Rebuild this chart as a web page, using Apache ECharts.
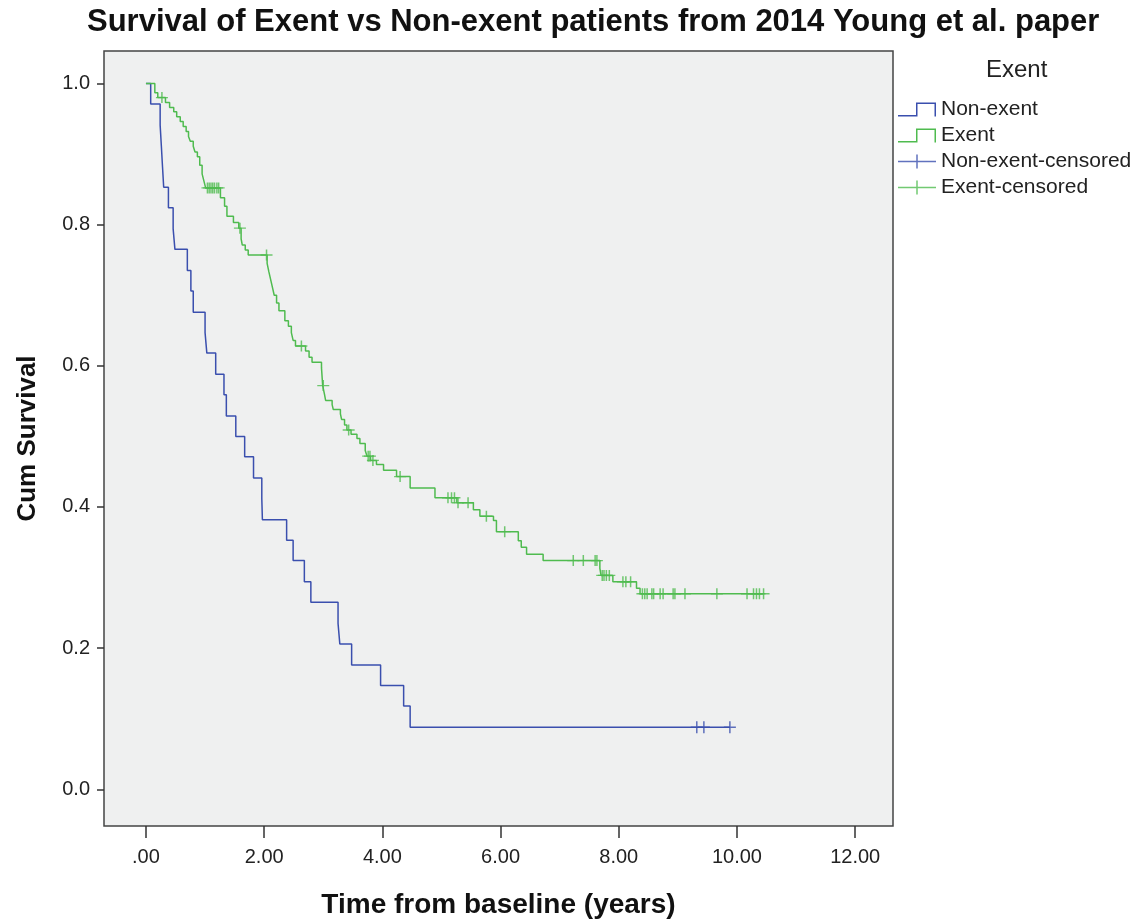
<!DOCTYPE html>
<html>
<head>
<meta charset="utf-8">
<title>Survival of Exent vs Non-exent patients</title>
<script src="https://cdn.jsdelivr.net/npm/echarts@6/dist/echarts.min.js"></script>
<style>
    html, body { margin: 0; padding: 0; background: #fff; }
    #chart { width: 1140px; height: 924px; }
</style>
</head>
<body>
<div id="chart"></div>
<script>
// Non-exent group: event times (years) and survival after each step
const nonExentTimes = [0, 0.08, 0.24, 0.26, 0.28, 0.30, 0.38, 0.46, 0.49, 0.70, 0.76, 0.80,
    1.00, 1.03, 1.18, 1.32, 1.36, 1.52, 1.67, 1.82, 1.96, 1.97, 2.38, 2.49, 2.68, 2.79,
    3.25, 3.28, 3.48, 3.97, 4.36, 4.47, 9.88]
const nonExentSurv = [1.0, 0.971, 0.941, 0.912, 0.882, 0.853, 0.824, 0.794, 0.765, 0.735, 0.706, 0.676,
    0.647, 0.618, 0.588, 0.559, 0.529, 0.500, 0.471, 0.441, 0.412, 0.382, 0.353, 0.324, 0.294, 0.265,
    0.235, 0.206, 0.176, 0.147, 0.118, 0.088, 0.088]
const nonExentCensored = [9.32, 9.44, 9.88]

// Exent group
const exentTimes = [0, 0.15, 0.20, 0.33, 0.40, 0.47, 0.52, 0.58, 0.63, 0.68, 0.72, 0.75, 0.80,
    0.83, 0.87, 0.91, 0.95, 0.98, 1.01, 1.26, 1.33, 1.37, 1.48, 1.57, 1.61, 1.63, 1.68, 1.73,
    2.05, 2.08, 2.11, 2.14, 2.17, 2.21, 2.25, 2.35, 2.41, 2.46, 2.49, 2.53, 2.70, 2.76, 2.81,
    2.97, 2.99, 3.02, 3.04, 3.15, 3.17, 3.29, 3.31, 3.36, 3.40, 3.47, 3.57, 3.62, 3.71, 3.74,
    3.80, 3.90, 4.02, 4.24, 4.47, 4.89, 5.26, 5.54, 5.65, 5.88, 5.93, 6.30, 6.35, 6.44, 6.72,
    7.68, 7.70, 7.90, 8.30, 8.36, 10.45]
const exentSurv = [1.0, 0.987, 0.980, 0.973, 0.966, 0.960, 0.953, 0.946, 0.939, 0.932, 0.925, 0.918, 0.911,
    0.903, 0.896, 0.884, 0.872, 0.862, 0.852, 0.838, 0.826, 0.812, 0.803, 0.795, 0.780, 0.771, 0.764, 0.757,
    0.745, 0.733, 0.722, 0.711, 0.700, 0.689, 0.678, 0.664, 0.656, 0.647, 0.636, 0.628, 0.621, 0.612, 0.605,
    0.597, 0.572, 0.560, 0.551, 0.545, 0.538, 0.532, 0.524, 0.516, 0.509, 0.503, 0.497, 0.490, 0.480, 0.472,
    0.466, 0.460, 0.452, 0.443, 0.427, 0.413, 0.406, 0.396, 0.387, 0.381, 0.365, 0.352, 0.343, 0.333, 0.324,
    0.313, 0.303, 0.294, 0.285, 0.277, 0.277]
const exentCensored = [0.27, 1.04, 1.07, 1.10, 1.13, 1.16, 1.20, 1.23, 1.59, 2.04, 2.63, 3.00, 3.43,
    3.76, 3.79, 3.84, 4.30, 5.11, 5.17, 5.22, 5.28, 5.45, 5.76, 6.07, 7.23, 7.40, 7.60, 7.63,
    7.72, 7.75, 7.79, 7.84, 8.07, 8.12, 8.20, 8.40, 8.44, 8.48, 8.56, 8.59, 8.70, 8.75, 8.92,
    8.95, 9.12, 9.66, 10.17, 10.28, 10.33, 10.38, 10.45]

const xTicks = [0, 2, 4, 6, 8, 10, 12]
const yTicks = [0, 0.2, 0.4, 0.6, 0.8, 1.0]

const BLUE = '#3a4fae'
const GREEN = '#4fbb4f'
const FONT = 'Liberation Sans, Arial, sans-serif'

// survival value of a step curve at time t (to put censor marks on the line)
function survAt(times, surv, t) {
    let s = surv[0]
    for (let i = 0; i < times.length; i++) {
        if (times[i] <= t) s = surv[i]
    }
    return s
}

const pairs = (xs, ys) => xs.map((x, i) => [x, ys[i]])

const crossIcon = 'path://M0,6.25 H38 V7.75 H0 Z M18.25,0 H19.75 V14 H18.25 Z'
const stepIcon = 'path://M0,12.5 L18,12.5 L18,0 L38,0 L38,14 L36.5,14 L36.5,1.5 L19.5,1.5 L19.5,14 L0,14 Z'
const crossMark = 'path://M5.25,0 H6.75 V12 H5.25 Z M0,5.25 H12 V6.75 H0 Z'

const chart = echarts.init(document.getElementById('chart'))

const option = {
    backgroundColor: '#fff',
    animation: false,
    title: [
        {
            text: 'Survival of Exent vs Non-exent patients from 2014 Young et al. paper',
            left: 82,
            top: 2,
            textStyle: { fontFamily: FONT, fontSize: 31, fontWeight: 'bold', color: '#111' }
        },
        {
            text: 'Exent',
            left: 981,
            top: 53,
            textStyle: { fontFamily: FONT, fontSize: 24, fontWeight: 'normal', color: '#222' }
        }
    ],
    legend: {
        orient: 'vertical',
        left: 898,
        top: 99,
        padding: 0,
        itemWidth: 38,
        itemHeight: 14,
        itemGap: 5,
        symbolKeepAspect: false,
        itemStyle: { borderWidth: 0 },
        textStyle: { fontFamily: FONT, fontSize: 21, color: '#222' },
        data: [
            { name: 'Non-exent', icon: stepIcon },
            { name: 'Exent', icon: stepIcon },
            { name: 'Non-exent-censored', icon: crossIcon },
            { name: 'Exent-censored', icon: crossIcon }
        ]
    },
    grid: {
        left: 104,
        top: 51,
        width: 789,
        height: 782,
        show: true,
        backgroundColor: '#eff0f0',
        borderColor: '#444',
        borderWidth: 1.5
    },
    xAxis: {
        type: 'value',
        min: -0.71,
        max: 12.64,
        name: 'Time from baseline (years)',
        nameLocation: 'middle',
        nameGap: 65,
        nameTextStyle: { fontFamily: FONT, fontSize: 28, fontWeight: 'bold', color: '#111' },
        axisLine: { show: false, onZero: false },
        splitLine: { show: false },
        axisTick: {
            customValues: xTicks,
            length: 12,
            lineStyle: { color: '#333', width: 1.5 }
        },
        axisLabel: {
            customValues: xTicks,
            margin: 21,
            fontFamily: FONT,
            fontSize: 20,
            color: '#222',
            formatter: v => (v === 0 ? '.00' : v.toFixed(2))
        }
    },
    yAxis: {
        type: 'value',
        min: -0.052,
        max: 1.046,
        name: 'Cum Survival',
        nameLocation: 'middle',
        nameGap: 63,
        nameTextStyle: { fontFamily: FONT, fontSize: 26, fontWeight: 'bold', color: '#111' },
        axisLine: { show: false, onZero: false },
        splitLine: { show: false },
        axisTick: {
            customValues: yTicks,
            length: 7,
            lineStyle: { color: '#333', width: 1.5 }
        },
        axisLabel: {
            customValues: yTicks,
            margin: 14,
            fontFamily: FONT,
            fontSize: 20,
            color: '#222',
            formatter: v => v.toFixed(1)
        }
    },
    series: [
        {
            name: 'Non-exent',
            type: 'line',
            step: 'end',
            showSymbol: false,
            itemStyle: { color: BLUE },
            lineStyle: { color: BLUE, width: 1.5 },
            data: pairs(nonExentTimes, nonExentSurv)
        },
        {
            name: 'Exent',
            type: 'line',
            step: 'end',
            showSymbol: false,
            itemStyle: { color: GREEN },
            lineStyle: { color: GREEN, width: 1.5 },
            data: pairs(exentTimes, exentSurv)
        },
        {
            name: 'Non-exent-censored',
            type: 'scatter',
            symbol: crossMark,
            symbolSize: [12, 12],
            itemStyle: { color: BLUE },
            z: 3,
            data: nonExentCensored.map(t => [t, survAt(nonExentTimes, nonExentSurv, t)])
        },
        {
            name: 'Exent-censored',
            type: 'scatter',
            symbol: crossMark,
            symbolSize: [12, 11],
            itemStyle: { color: GREEN },
            z: 3,
            data: exentCensored.map(t => [t, survAt(exentTimes, exentSurv, t)])
        }
    ]
}

chart.setOption(option)
</script>
</body>
</html>
